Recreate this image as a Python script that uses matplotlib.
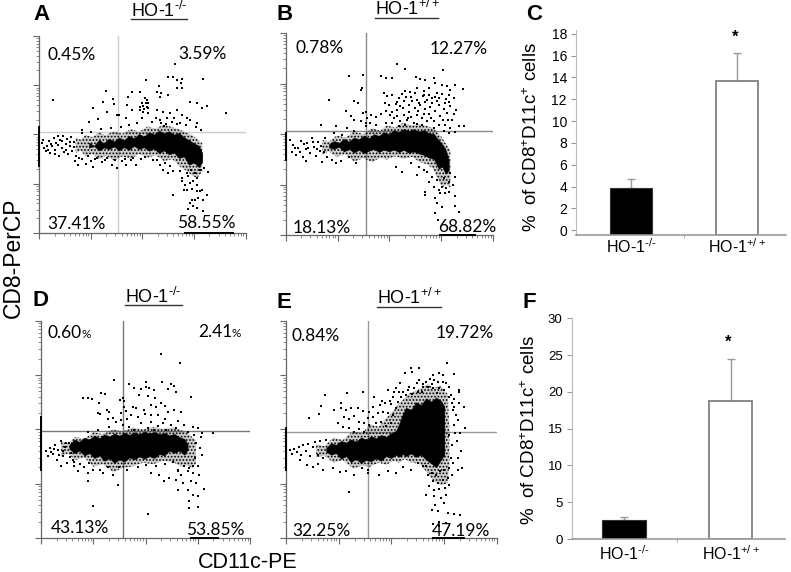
import numpy as np
from matplotlib import pyplot as plt

plt.rcParams['font.family'] = ['Liberation Sans', 'DejaVu Sans']
plt.rcParams['mathtext.fontset'] = 'custom'
plt.rcParams['mathtext.rm'] = 'Liberation Sans'
plt.rcParams['mathtext.default'] = 'regular'
plt.rcParams['hatch.linewidth'] = 0.8

W, H = 791, 572

# dot plots, values are cytometer channels
# core = solid part of the population, mid = speckled part around it
a_core_x = [150, 165, 180, 195, 210, 225, 240, 255, 270, 285, 300, 315, 330, 345, 360, 375, 390, 405, 420, 435, 450, 465, 480, 490]
a_core_hi = [272, 262, 280, 270, 284, 275, 287, 279, 292, 285, 298, 290, 303, 296, 308, 300, 306, 296, 301, 288, 279, 270, 262, 240]
a_core_lo = [256, 262, 248, 257, 252, 260, 248, 258, 250, 262, 252, 258, 247, 254, 240, 248, 236, 242, 225, 230, 205, 212, 198, 214]
a_mid_x = [110, 125, 140, 160, 180, 200, 225, 250, 275, 300, 325, 350, 375, 400, 425, 445, 460, 475, 490]
a_mid_hi = [288, 280, 295, 288, 302, 294, 306, 298, 312, 304, 320, 314, 326, 318, 310, 300, 294, 282, 270]
a_mid_lo = [240, 248, 230, 238, 222, 232, 218, 230, 222, 238, 226, 234, 216, 222, 198, 185, 172, 165, 185]
a_dots = [(408,507),(321,460),(493,464),(386,470),(403,468),(413,460),(428,462),(426,450),(413,435),(428,435),
    (361,442),(353,425),(365,420),(363,410),(388,415),(201,426),(278,425),(303,425),(268,410),(193,395),(221,402),
    (226,388),(163,377),(41,400),(561,360),(503,383),(488,377),(453,395),(473,390),(263,385),(278,370),(303,380),
    (308,390),(313,382),(323,400),(328,390),(328,375),(303,370),(313,365),(323,380),(318,405),(316,372),(320,392),
    (326,362),(353,370),(373,365),(393,360),(413,370),(428,355),(443,345),(383,345),(363,340),(398,335),(423,330),
    (453,340),(473,330),(178,343),(151,335),(233,355),(241,355),(261,345),(308,345),(205,365),(128,310),(380,328),
    (350,345),(405,345),(440,325),(375,322),(365,330),(415,328),(470,318),(486,310),(403,115),(428,155),(438,145),
    (453,150),(448,170),(463,155),(473,145),(473,125),(483,125),(488,130),(505,115),(493,100),(478,105),(468,100),
    (458,100),(453,90),(448,72),(463,80),(473,75),(493,65),(468,180),(483,190),(495,195),(508,182),(443,180),
    (423,185),(403,185),(388,180),(373,190),(363,205),(353,220),(378,210),(393,200),(430,165),(445,128),(460,132),
    (435,130),(475,165),(455,188),(8,270),(15,255),(20,245),(25,262),(30,275),(34,240),(40,262),(44,285),(48,250),
    (52,270),(56,290),(60,232),(63,278),(68,256),(72,292),(76,242),(80,268),(84,282),(88,238),(92,260),(96,288),
    (100,246),(104,272),(110,232),(108,215),(130,222),(118,205),(140,208),(155,215),(162,198),(175,225),(190,212),
    (205,225),(220,205),(235,195),(250,215),(262,205),(275,218),(290,205),(130,300),(155,305),(185,312),(215,315),
    (245,318),(270,325),(295,330),(340,335),(12,280),(26,250),(36,268),(47,238),(58,265),(70,275),(82,250),(94,272),
    (106,258),(120,226),(148,230),(168,222),(198,218),(228,220),(258,222),(282,226),(305,222),(318,228),(342,218)]

b_core_x = [130, 145, 160, 175, 190, 205, 220, 235, 250, 265, 280, 295, 310, 325, 340, 355, 370, 385, 400, 415, 430, 445, 460, 470, 480, 490]
b_core_hi = [272, 282, 276, 288, 280, 292, 287, 298, 290, 302, 297, 308, 302, 314, 308, 318, 312, 317, 310, 314, 305, 303, 284, 272, 258, 225]
b_core_lo = [262, 258, 264, 250, 258, 247, 255, 245, 252, 258, 248, 256, 250, 256, 248, 255, 246, 250, 244, 240, 232, 228, 198, 205, 184, 192]
b_mid_x = [110, 130, 153, 180, 205, 233, 260, 285, 303, 330, 353, 380, 403, 425, 443, 458, 470, 482, 495]
b_mid_hi = [285, 280, 298, 292, 310, 302, 320, 312, 328, 322, 336, 328, 332, 326, 320, 305, 292, 272, 255]
b_mid_lo = [242, 250, 234, 242, 220, 230, 218, 232, 226, 236, 228, 234, 218, 212, 198, 165, 142, 150, 142]
b_dots = [(335,513),(360,498),(472,495),(190,475),(230,440),(225,435),(232,478),(285,477),(300,470),(318,470),
    (393,474),(405,468),(420,465),(445,470),(450,455),(430,440),(470,450),(485,445),(510,450),(533,438),(360,430),
    (373,428),(395,440),(415,430),(378,412),(395,405),(412,415),(432,420),(455,425),(470,422),(490,418),(505,410),
    (295,425),(305,415),(320,418),(340,410),(355,400),(298,395),(310,388),(330,392),(352,380),(370,390),(388,380),
    (405,390),(420,378),(440,395),(455,402),(478,395),(495,385),(512,375),(300,370),(318,368),(335,375),(355,360),
    (372,368),(395,358),(410,350),(430,362),(450,370),(465,355),(485,365),(500,345),(240,368),(255,360),(270,352),
    (285,362),(325,350),(345,340),(365,345),(385,335),(425,340),(445,340),(460,330),(480,330),(495,320),(520,325),
    (535,325),(243,350),(232,365),(218,395),(205,400),(130,403),(180,370),(195,355),(205,345),(225,340),(240,335),
    (242,325),(252,335),(270,330),(300,335),(320,335),(340,325),(360,328),(395,333),(410,328),(445,320),(475,312),
    (490,305),(508,308),(105,330),(152,325),(185,320),(415,420),(440,410),(462,410),(380,400),(350,422),(333,398),
    (425,405),(495,435),(482,408),(398,372),(368,350),(420,120),(450,110),(455,95),(470,85),(508,87),(520,70),
    (510,118),(490,130),(482,140),(470,145),(460,135),(475,170),(490,160),(502,150),(455,165),(440,175),(425,190),
    (418,128),(445,145),(465,125),(432,160),(510,175),(495,185),(480,125),(450,65),(458,45),(330,205),(350,190),
    (400,205),(415,195),(378,215),(395,180),(12,285),(18,250),(22,270),(30,240),(38,262),(45,282),(52,235),(60,258),
    (65,275),(72,245),(78,290),(84,265),(90,238),(96,280),(102,252),(108,218),(60,222),(125,235),(138,225),(150,215),
    (165,222),(190,235),(210,215),(118,290),(145,305),(170,300),(205,310),(345,385),(362,412),(388,425),(402,395),
    (418,398),(435,382),(448,412),(462,388),(475,378),(492,398),(505,362),(335,355),(312,358),(378,352),(415,362),
    (438,350),(472,345),(488,345),(28,262),(42,248),(56,272),(68,262),(82,278),(94,258),(106,268),(116,250)]

d_core_x = [85, 100, 115, 130, 145, 160, 175, 190, 205, 220, 235, 250, 265, 280, 295, 310, 325, 340, 355, 370, 385, 400, 415, 430, 440]
d_core_hi = [280, 296, 289, 302, 296, 308, 300, 312, 305, 314, 308, 316, 310, 318, 312, 320, 314, 319, 312, 316, 309, 313, 303, 298, 282]
d_core_lo = [268, 255, 262, 248, 255, 240, 248, 232, 240, 226, 236, 230, 242, 236, 245, 238, 246, 240, 252, 248, 262, 256, 262, 250, 265]
d_mid_x = [60, 82, 102, 130, 157, 185, 217, 245, 277, 305, 337, 365, 397, 420, 440, 455, 465]
d_mid_hi = [292, 284, 304, 298, 318, 312, 326, 320, 332, 326, 334, 328, 332, 324, 316, 302, 292]
d_mid_lo = [246, 254, 234, 242, 214, 222, 198, 210, 216, 226, 222, 232, 228, 215, 218, 210, 225]
d_dots = [(361,552),(417,527),(219,476),(263,462),(315,470),(362,468),(390,462),(400,457),(380,448),(405,440),
    (315,455),(280,452),(300,448),(325,450),(340,445),(295,430),(320,428),(342,422),(360,405),(180,435),(127,420),
    (140,420),(152,418),(192,433),(450,423),(175,405),(238,415),(245,420),(250,412),(248,395),(275,395),(240,375),
    (255,382),(285,390),(310,385),(330,400),(345,395),(372,398),(380,378),(400,385),(420,380),(372,358),(350,370),
    (330,370),(312,372),(290,365),(270,370),(258,358),(240,355),(225,350),(205,378),(197,385),(170,375),(178,372),
    (200,358),(215,360),(300,345),(330,350),(350,338),(365,345),(390,340),(410,352),(430,340),(455,335),(470,330),
    (483,315),(515,315),(245,340),(265,335),(280,325),(320,330),(340,325),(375,325),(405,330),(440,320),(460,310),
    (480,305),(142,170),(232,160),(322,72),(155,96),(443,90),(445,110),(472,92),(440,145),(455,130),(470,125),(488,148),
    (410,145),(425,165),(450,170),(465,165),(475,190),(420,188),(405,175),(385,180),(368,172),(355,190),(330,195),
    (440,200),(455,195),(470,215),(455,215),(482,250),(462,240),(445,210),(430,215),(410,200),(15,262),(22,245),(28,270),
    (35,252),(42,280),(48,235),(52,265),(60,290),(66,245),(72,272),(78,225),(84,285),(90,255),(95,235),(60,215),(110,200),
    (140,195),(155,205),(178,205),(185,195),(200,212),(215,190),(145,225),(128,212),(100,215),(465,285),(478,270),(140,320),
    (170,325),(205,335),(30,258),(40,268),(55,250),(65,262),(75,285),(88,242),(100,228),(118,222),(235,212),(258,205),
    (290,212),(315,218),(345,215),(372,222),(395,228),(412,205)]

e_core_x = [120, 135, 150, 165, 180, 195, 210, 225, 240, 255, 270, 285, 300, 315, 330, 340, 350, 360, 375, 390, 405, 420, 435, 450, 465, 475]
e_core_hi = [270, 285, 280, 292, 287, 296, 290, 302, 296, 306, 300, 310, 304, 315, 322, 345, 372, 392, 385, 408, 400, 420, 410, 422, 412, 395]
e_core_lo = [260, 250, 255, 238, 246, 228, 238, 225, 235, 230, 240, 232, 246, 240, 250, 244, 252, 246, 254, 244, 250, 236, 225, 212, 235, 250]
e_mid_x = [90, 115, 142, 170, 202, 228, 252, 278, 302, 322, 340, 356, 372, 402, 425, 442, 465, 485, 490]
e_mid_hi = [282, 276, 302, 294, 322, 314, 342, 334, 362, 382, 406, 420, 436, 448, 462, 452, 456, 432, 335]
e_mid_lo = [242, 248, 226, 234, 208, 218, 214, 226, 220, 232, 226, 238, 228, 222, 194, 172, 158, 165, 225]
e_dots = [(483,527),(398,512),(375,512),(358,495),(378,498),(440,490),(460,495),(470,490),(503,493),(330,450),(342,465),
    (400,475),(420,470),(432,478),(445,475),(455,470),(470,470),(480,465),(490,455),(410,455),(425,455),(440,450),
    (460,450),(475,445),(350,440),(365,445),(385,450),(395,440),(408,440),(325,438),(345,425),(360,430),(378,432),
    (518,445),(520,440),(495,430),(505,418),(520,405),(535,395),(538,330),(522,315),(505,395),(497,405),(265,425),
    (305,445),(320,425),(335,410),(230,440),(182,435),(118,430),(70,362),(98,372),(106,398),(165,405),(165,392),
    (180,385),(196,390),(215,392),(232,382),(248,380),(262,395),(282,400),(298,405),(316,402),(330,390),(245,360),
    (260,365),(275,375),(290,380),(305,375),(320,370),(175,365),(190,358),(205,368),(220,350),(235,345),(250,340),
    (270,345),(285,350),(300,338),(315,345),(155,345),(172,335),(190,332),(205,320),(220,328),(235,320),(508,315),
    (488,310),(515,240),(525,262),(190,138),(145,385),(430,275),(420,215),(438,195),(450,190),(462,200),(475,205),
    (440,170),(455,165),(470,175),(485,180),(497,190),(430,155),(445,145),(460,148),(478,150),(490,160),(420,128),
    (445,125),(465,120),(480,130),(475,105),(448,100),(438,85),(455,82),(485,75),(505,72),(522,70),(480,45),(460,48),
    (440,42),(460,35),(425,190),(410,215),(395,225),(375,205),(350,212),(330,195),(305,200),(280,190),(245,195),(245,205),
    (228,210),(205,190),(180,200),(162,198),(140,210),(110,205),(95,222),(80,212),(62,218),(42,235),(12,265),(18,252),
    (24,268),(32,258),(38,272),(45,250),(52,278),(60,262),(66,282),(72,245),(80,272),(88,288),(95,248),(102,290),(112,240),
    (120,295),(528,210),(515,205),(500,225),(452,435),(438,462),(412,462),(392,465),(368,455),(338,440),(312,412),(288,412),
    (490,425),(500,385),(510,370),(515,355),(505,340),(512,290),(498,280),(495,240),(490,210)]

c_labels = ['HO-1$^{\\text{-/-}}$', 'HO-1$^{+/+}$']
c_values = [3.9, 13.7]
c_err = [0.8, 2.5]
f_values = [2.6, 18.8]
f_err = [0.4, 5.6]


def px_axes(left, top, right, bottom):
    return fig.add_axes([left / W, 1 - bottom / H, (right - left) / W, (bottom - top) / H])


def px_text(x, y, s, **kw):
    kw.setdefault('va', 'baseline')
    return fig.text(x / W, 1 - y / H, s, **kw)


def dot_plot(box, xmax, ymax, gate_x, gate_y, gate_c, core, mid, dots, wall, floor):
    ax = px_axes(*box)
    ax.set_xlim(0, xmax)
    ax.set_ylim(0, ymax)
    for side in ['top', 'right']:
        ax.spines[side].set_visible(False)
    for side in ['left', 'bottom']:
        ax.spines[side].set_color('#666666')
        ax.spines[side].set_linewidth(0.9)

    dec = np.arange(5)
    sub = np.concatenate([d + np.log10(np.arange(2, 10)) for d in range(4)])
    ax.set_xticks(dec * xmax / 4)
    ax.set_xticks(sub * xmax / 4, minor=True)
    ax.set_yticks(dec * ymax / 4)
    ax.set_yticks(sub * ymax / 4, minor=True)
    ax.tick_params(which='major', length=4, width=0.8, color='#666666', labelbottom=False, labelleft=False)
    ax.tick_params(which='minor', length=2.2, width=0.6, color='#777777')

    ax.axvline(gate_x, color=gate_c, lw=1, zorder=1)
    ax.axhline(gate_y, color=gate_c, lw=1, zorder=1)

    # speckled part: faint wash with dots on top so it reads as dense events
    ax.fill_between(mid[0], mid[2], mid[1], facecolor=(0, 0, 0, 0.2), edgecolor='k', linewidth=0, hatch='.....', zorder=2)
    ax.fill_between(core[0], core[2], core[1], color='k', linewidth=0.3, zorder=3)
    pts = np.array(dots)
    ax.scatter(pts[:, 0], pts[:, 1], s=1.0, c='k', marker='s', linewidths=0, zorder=4)
    ax.plot([0, 0], wall, color='k', lw=1.4, clip_on=False, zorder=4)
    ax.plot(floor, [1, 1], color='k', lw=1.4, clip_on=False, zorder=4)
    return ax


def bar_plot(box, ylim, ticks, values, err, xlim, width, star_y, axis_c, tick_size, pad):
    ax = px_axes(*box)
    x = np.arange(2)
    base = ylim[0]
    ax.bar(x[0], values[0] - base, width, bottom=base, color='k', edgecolor='#333333', linewidth=0.8, zorder=2)
    ax.bar(x[1], values[1] - base, width, bottom=base, color='white', edgecolor='#808080', linewidth=1.3, zorder=2)
    ax.errorbar(x, values, yerr=[[0, 0], err], fmt='none', ecolor='#999999', elinewidth=1, capsize=3, capthick=1, zorder=1)
    ax.set_xlim(*xlim)
    ax.set_ylim(*ylim)
    ax.set_yticks(ticks)
    ax.set_xticks(x)
    ax.set_xticklabels(c_labels, fontsize=11.5)
    ax.set_xticks([0.5], minor=True)
    ax.tick_params(axis='x', length=0, pad=pad)
    ax.tick_params(axis='x', which='minor', length=2, color=axis_c)
    ax.tick_params(axis='y', length=3.5, color=axis_c, labelsize=tick_size, pad=3)
    for side in ['top', 'right']:
        ax.spines[side].set_visible(False)
    ax.spines['left'].set_color('#bbbbbb')
    ax.spines['bottom'].set_color(axis_c)
    ax.spines['bottom'].set_linewidth(1.2)
    ax.text(1 - 0.02, star_y, '*', ha='center', va='center', fontsize=12, fontweight='bold')
    return ax


fig = plt.figure(figsize=(W / 100, H / 100), dpi=100)

dot_plot((39, 36, 245.6, 233), 620, 592, 237, 305, '#cccccc',
         (a_core_x, a_core_hi, a_core_lo), (a_mid_x, a_mid_hi, a_mid_lo), a_dots, [200, 320], [438, 583])
dot_plot((285.7, 33, 493, 235), 623, 605, 240, 312, '#888888',
         (b_core_x, b_core_hi, b_core_lo), (b_mid_x, b_mid_hi, b_mid_lo), b_dots, [225, 305], [465, 570])
dot_plot((41, 320.7, 250, 538), 627, 653, 245, 323, '#777777',
         (d_core_x, d_core_hi, d_core_lo), (d_mid_x, d_mid_hi, d_mid_lo), d_dots, [205, 365], [450, 530])
dot_plot((286, 320.7, 496.7, 538), 632, 653, 246, 320, '#999999',
         (e_core_x, e_core_hi, e_core_lo), (e_mid_x, e_mid_hi, e_mid_lo), e_dots, [205, 330], [442, 535])

bar_plot((576, 30, 786, 235), (-0.43, 18.35), np.arange(0, 19, 2), c_values, c_err, (-0.52, 1.46), 0.4, 17.7, '#999999', 10, 2)
bar_plot((571.7, 318.3, 785, 539), (0, 30), np.arange(0, 31, 5), f_values, f_err, (-0.49, 1.51), 0.405, 26.8, '#999999', 9.5, 4)

# y labels of the bar panels
px_text(532, 137, '%  of CD8$^{+}$D11c$^{+}$ cells', rotation=90, ha='center', va='center', fontsize=13.5)
px_text(530, 430, '%  of CD8$^{+}$D11c$^{+}$ cells', rotation=90, ha='center', va='center', fontsize=13.5)

# shared flow axis names
px_text(13, 258, 'CD8-PerCP', rotation=90, ha='center', va='center', fontsize=16.5)
px_text(198, 568, 'CD11c-PE', fontsize=15.5)

# panel letters
for x, y, s in [(33, 20, 'A'), (276, 20, 'B'), (526, 20, 'C'), (33, 306, 'D'), (276, 308, 'E'), (523, 308, 'F')]:
    px_text(x, y, s, fontsize=16, fontweight='bold')

# genotype titles, underlined by hand
for x0, x1, y, s in [(130.7, 187, 16.7, 'HO-1$^{\\text{-/-}}$'), (375, 438, 15, 'HO-1$^{+/+}$'),
                     (125, 182, 302.7, 'HO-1$^{\\text{-/-}}$'), (376.7, 440.7, 304, 'HO-1$^{+/+}$')]:
    px_text(x0, y, s, fontsize=13)
    fig.add_artist(plt.Line2D([x0 / W, x1 / W], [1 - (y + 2.6) / H] * 2, color='#333333', lw=1))

# quadrant percentages
quads = [(48, 59.5, '0.45%'), (178, 59, '3.59%'), (47, 229, '37.41%'), (177, 228, '58.55%'),
         (295, 52.7, '0.78%'), (430, 54, '12.27%'), (293, 232.7, '18.13%'), (437.7, 231.7, '68.82%'),
         (47, 338, '0.60'), (198, 336.7, '2.41'), (50.7, 533, '43.13%'), (185.7, 535, '53.85%'),
         (291.7, 340.7, '0.84%'), (435.7, 338, '19.72%'), (292, 535.7, '32.25%'), (432, 536, '47.19%')]
for x, y, s in quads:
    px_text(x, y, s, fontsize=12.5, family=['Lato', 'DejaVu Sans'], zorder=10)
# panel D sets its percent signs smaller
for x, y in [(81.7, 338), (231.7, 336.7)]:
    px_text(x, y, '%', fontsize=8.5, family=['Lato', 'DejaVu Sans'], zorder=10)

fig.savefig('out.png', dpi=100)
